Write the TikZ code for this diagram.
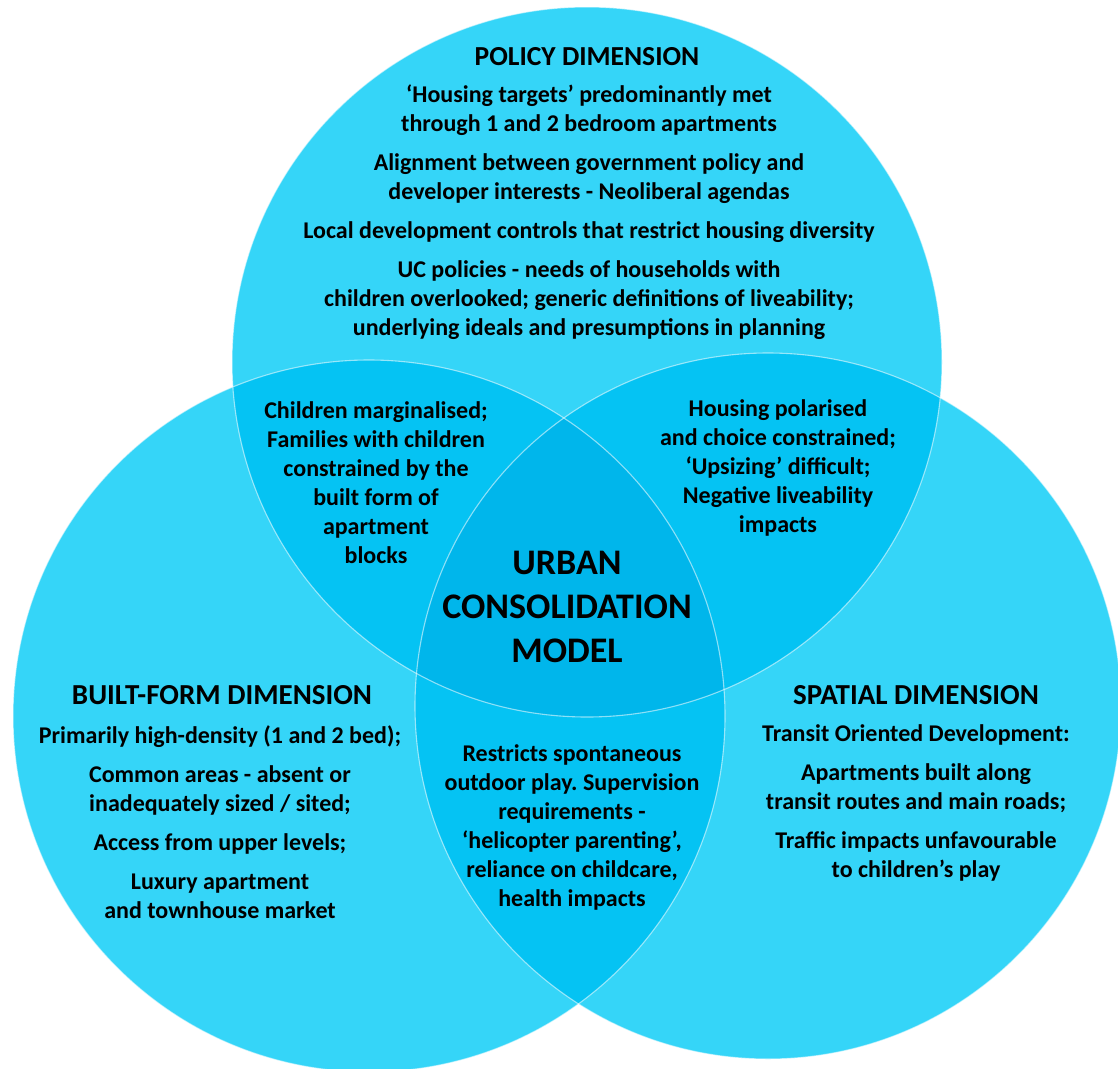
\documentclass[tikz,border=0pt]{standalone}
\usepackage{fontspec}
\setmainfont{Carlito}
\frenchspacing
\definecolor{vone}{HTML}{35D5F8}
\definecolor{vtwo}{HTML}{05C3F3}
\definecolor{vthree}{HTML}{00B6EB}
\begin{document}
\begin{tikzpicture}[x=1pt,y=-1pt]
\tikzset{
  body/.style={align=center, font=\fontsize{24}{29}\selectfont\bfseries, text=black, inner sep=0pt},
  heading/.style={align=center, font=\fontsize{29}{32}\selectfont\bfseries, text=black, inner sep=0pt},
  core/.style={align=center, font=\fontsize{36}{44}\selectfont\bfseries, text=black, inner sep=0pt},
  rim/.style={draw=white, draw opacity=0.55, line width=1.1pt}
}
\useasboundingbox (0,0) rectangle (1118,1068);
\clip (0,0) rectangle (1118,1068);
\fill[white] (0,0) rectangle (1118,1068);

% circle centres
\coordinate (cpol) at (587,362);
\coordinate (cbuilt) at (369,716);
\coordinate (cspat) at (768,706);
\def\rpol{355pt}
\def\rbuilt{356pt}
\def\rspat{353pt}

% single regions
\fill[vone] (cpol) circle[radius=\rpol];
\fill[vone] (cbuilt) circle[radius=\rbuilt];
\fill[vone] (cspat) circle[radius=\rspat];

% pairwise overlaps
\begin{scope}
  \clip (cpol) circle[radius=\rpol];
  \fill[vtwo] (cbuilt) circle[radius=\rbuilt];
  \fill[vtwo] (cspat) circle[radius=\rspat];
\end{scope}
\begin{scope}
  \clip (cbuilt) circle[radius=\rbuilt];
  \fill[vtwo] (cspat) circle[radius=\rspat];
\end{scope}

% common core
\begin{scope}
  \clip (cpol) circle[radius=\rpol];
  \clip (cbuilt) circle[radius=\rbuilt];
  \fill[vthree] (cspat) circle[radius=\rspat];
\end{scope}

% light rims
\draw[rim] (cpol) circle[radius=\rpol];
\draw[rim] (cbuilt) circle[radius=\rbuilt];
\draw[rim] (cspat) circle[radius=\rspat];

% policy dimension
\node[heading, font=\fontsize{27.5}{32}\selectfont\bfseries] (polhead) at (587,57) {POLICY DIMENSION};
\node[body] (poltext) at (589,212.5) {%
  ‘Housing targets’ predominantly met\\
  through 1 and 2 bedroom apartments\\[10pt]
  Alignment between government policy and\\
  developer interests - Neoliberal agendas\\[10pt]
  Local development controls that restrict housing diversity\\[10pt]
  UC policies - needs of households with\\
  children overlooked; generic definitions of liveability;\\
  underlying ideals and presumptions in planning};

% built-form dimension
\node[heading] (builthead) at (222,695) {BUILT-FORM DIMENSION};
\node[body] (builttext) at (220,822) {%
  Primarily high-density (1 and 2 bed);\\[10pt]
  Common areas - absent or\\
  inadequately sized / sited;\\[10pt]
  Access from upper levels;\\[10pt]
  Luxury apartment\\
  and townhouse market};

% spatial dimension
\node[heading] (spathead) at (916,695) {SPATIAL DIMENSION};
\node[body] (spattext) at (916,803) {%
  Transit Oriented Development:\\[10pt]
  Apartments built along\\
  transit routes and main roads;\\[10pt]
  Traffic impacts unfavourable\\
  to children’s play};

% overlaps
\node[body] (polbuilt) at (376,482.5) {%
  Children marginalised;\\
  Families with children\\
  constrained by the\\
  built form of\\
  apartment\\
  blocks};
\node[body] (polspat) at (778,467.5) {%
  Housing polarised\\
  and choice constrained;\\
  ‘Upsizing’ difficult;\\
  Negative liveability\\
  impacts};
\node[body] (builtspat) at (572,827) {%
  Restricts spontaneous\\
  outdoor play. Supervision\\
  requirements -\\
  ‘helicopter parenting’,\\
  reliance on childcare,\\
  health impacts};

% core
\node[core] (model) at (567,607) {URBAN\\CONSOLIDATION\\MODEL};
\end{tikzpicture}
\end{document}
